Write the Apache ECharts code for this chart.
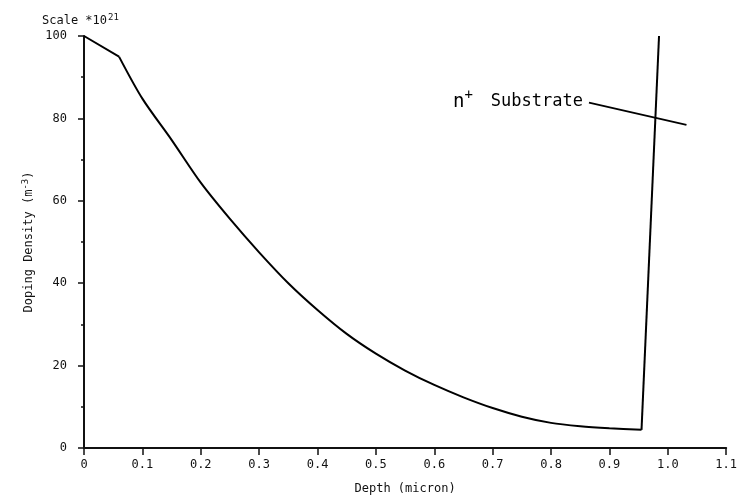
<!DOCTYPE html>
<html>
<head>
<meta charset="utf-8">
<script src="https://cdn.jsdelivr.net/npm/echarts@6/dist/echarts.min.js"></script>
<style>
  html, body { margin: 0; padding: 0; background: #fff; }
  #chart { width: 740px; height: 500px; }
</style>
</head>
<body>
<div id="chart"></div>
<script>
// depth in micron, density in units of 1e21 m^-3
var depth = [0, 0.06, 0.1, 0.15, 0.2, 0.25, 0.3, 0.35, 0.4, 0.45, 0.5, 0.55, 0.6, 0.65, 0.7, 0.75, 0.8, 0.85, 0.9, 0.955, 0.985];
var density = [100, 95, 84.8, 74.8, 64.4, 55.6, 47.5, 40.0, 33.5, 27.7, 22.9, 18.8, 15.3, 12.3, 9.7, 7.6, 6.1, 5.3, 4.8, 4.4, 100];

// pointer line for the "n+ Substrate" note
var noteX = [0.865, 1.032];
var noteY = [83.8, 78.4];

var xTicks = ['0', '0.1', '0.2', '0.3', '0.4', '0.5', '0.6', '0.7', '0.8', '0.9', '1.0', '1.1'];

var font = 'DejaVu Sans Mono';

var profile = depth.map(function (d, i) { return [d, density[i]]; });
var note = noteX.map(function (d, i) { return [d, noteY[i]]; });
// corners stay sharp: straight start, smooth diffusion tail, straight substrate edge
var last = profile.length - 1;
var head = profile.slice(0, 2);
var body = profile.slice(1, last);
var edge = profile.slice(last - 1);

var myChart = echarts.init(document.getElementById('chart'));
var lineStyle = { color: '#000', width: 2 };
var option = {
    animation: false,
    backgroundColor: '#fff',
    title: {
        left: 37,
        top: 8,
        text: 'Scale *10{sup|21}',
        textStyle: {
            fontFamily: font,
            fontSize: 12,
            fontWeight: 'normal',
            color: '#111',
            rich: {
                sup: { fontFamily: font, fontSize: 9, color: '#111', verticalAlign: 'top', padding: [0, 0, 6, 1] }
            }
        }
    },
    grid: {
        left: 84,
        right: 13,
        top: 36,
        bottom: 50
    },
    xAxis: {
        type: 'value',
        min: 0,
        max: 1.1,
        interval: 0.1,
        name: 'Depth (micron)',
        nameLocation: 'middle',
        nameGap: 35,
        nameTextStyle: { fontFamily: font, fontSize: 12, color: '#111' },
        axisLine: { show: true, onZero: false, lineStyle: { color: '#111', width: 2 } },
        axisTick: { show: true, length: 7, lineStyle: { color: '#111', width: 1.5 } },
        axisLabel: {
            margin: 11,
            fontFamily: font,
            fontSize: 12,
            color: '#111',
            formatter: function (v) { return xTicks[Math.round(v * 10)]; }
        },
        splitLine: { show: false }
    },
    yAxis: {
        type: 'value',
        min: 0,
        max: 100,
        interval: 20,
        name: 'Doping Density (m{sup|-3})',
        nameLocation: 'middle',
        nameRotate: 90,
        nameGap: 45,
        nameTextStyle: {
            fontFamily: font,
            fontSize: 12,
            color: '#111',
            rich: {
                sup: { fontFamily: font, fontSize: 9, color: '#111', verticalAlign: 'top', padding: [0, 0, 6, 0] }
            }
        },
        axisLine: { show: true, lineStyle: { color: '#111', width: 2 } },
        axisTick: { show: true, length: 6, lineStyle: { color: '#111', width: 1.5 } },
        minorTick: { show: true, splitNumber: 2, length: 3, lineStyle: { color: '#111', width: 1.5 } },
        axisLabel: {
            margin: 17,
            fontFamily: font,
            fontSize: 12,
            color: '#111'
        },
        splitLine: { show: false }
    },
    series: [
        { name: 'head', type: 'line', data: head, symbol: 'none', lineStyle: lineStyle },
        { name: 'body', type: 'line', data: body, symbol: 'none', smooth: 0.3, lineStyle: lineStyle },
        { name: 'edge', type: 'line', data: edge, symbol: 'none', lineStyle: lineStyle },
        {
            name: 'note',
            type: 'line',
            data: note,
            symbol: 'none',
            lineStyle: { color: '#000', width: 1.8 },
            markPoint: {
                symbol: 'circle',
                symbolSize: 0,
                data: [{
                    coord: note[0],
                    label: {
                        show: true,
                        position: 'left',
                        distance: 6,
                        offset: [0, -1],
                        formatter: '{n|n}{p|+}{g| }{s|Substrate}',
                        rich: {
                            n: { fontFamily: font, fontSize: 19, color: '#000' },
                            p: { fontFamily: font, fontSize: 14, color: '#000', verticalAlign: 'top', padding: [0, 0, 12, 0] },
                            g: { fontFamily: font, fontSize: 17, width: 18 },
                            s: { fontFamily: font, fontSize: 17, color: '#000' }
                        }
                    }
                }]
            }
        }
    ]
};
myChart.setOption(option);
</script>
</body>
</html>
